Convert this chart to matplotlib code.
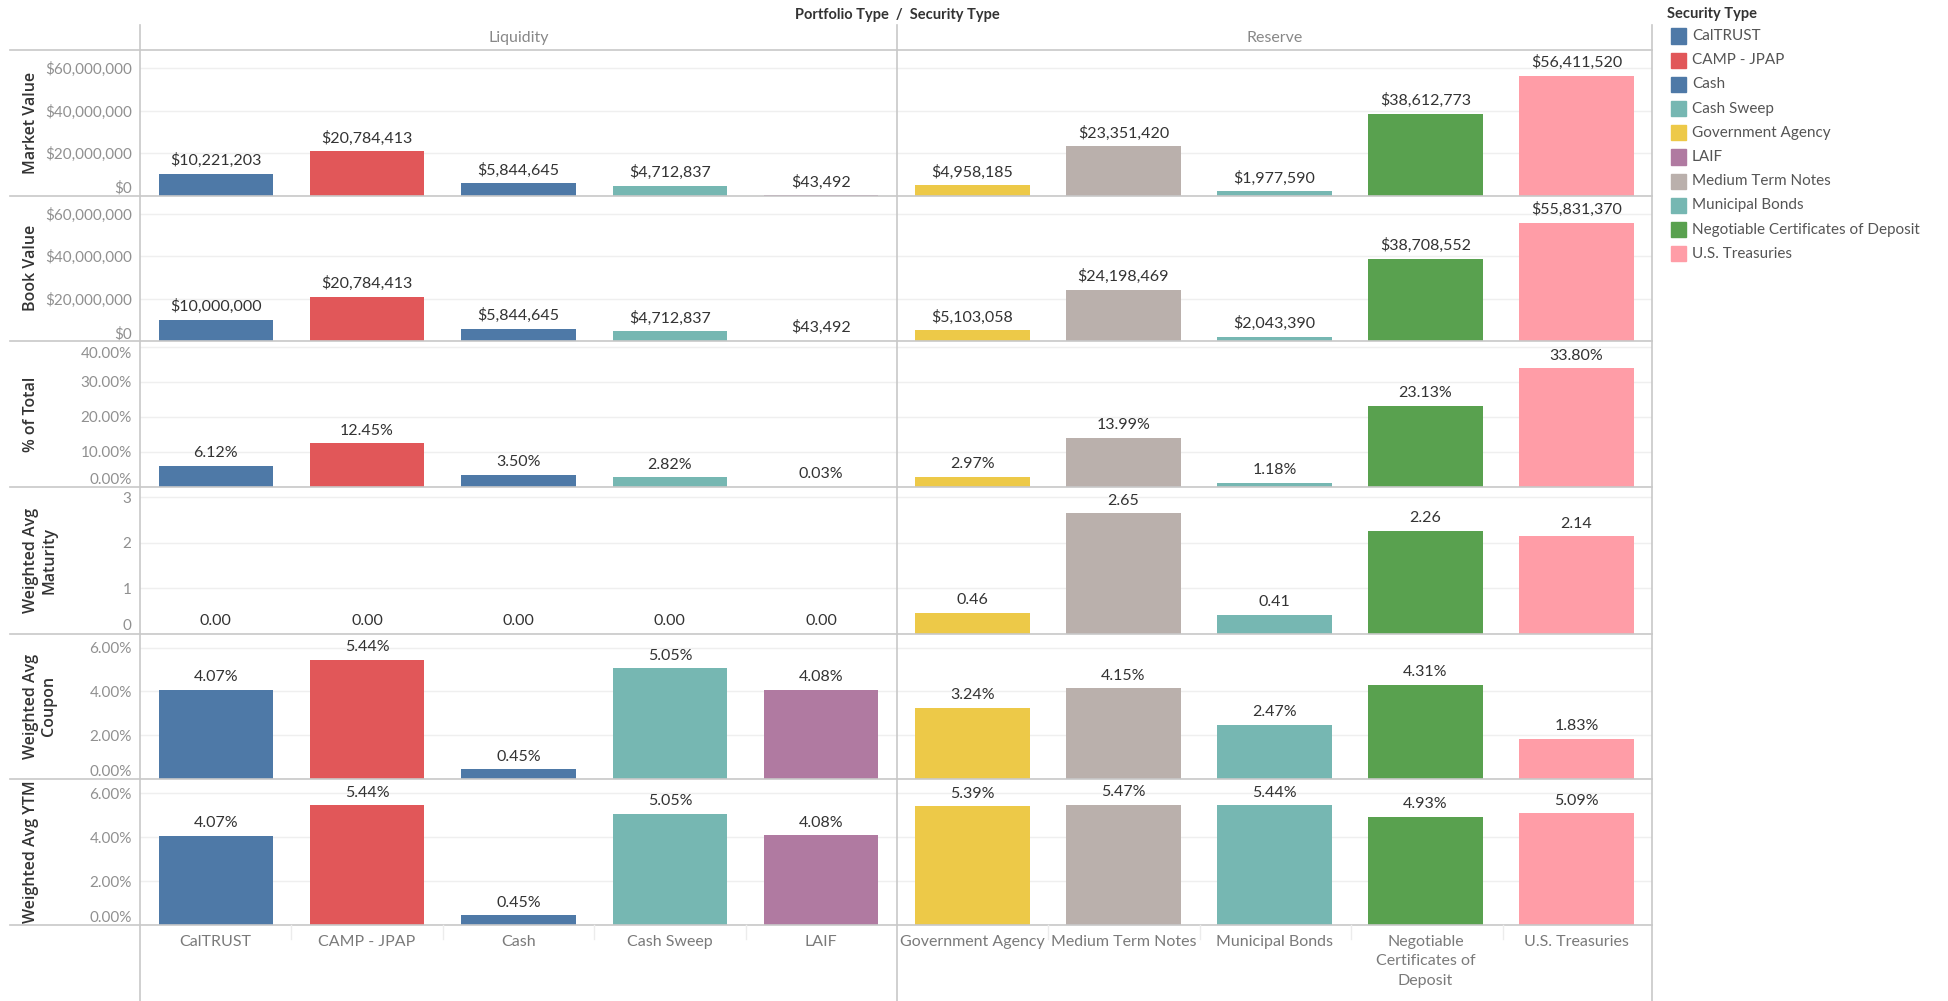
import numpy as np
import matplotlib.pyplot as plt
from matplotlib.lines import Line2D
from matplotlib.patches import Rectangle

plt.rcParams['font.family'] = ['Lato', 'DejaVu Sans']

# categories per portfolio type
liquidity = ["CalTRUST", "CAMP - JPAP", "Cash", "Cash Sweep", "LAIF"]
reserve = ["Government Agency", "Medium Term Notes", "Municipal Bonds",
           "Negotiable Certificates of Deposit", "U.S. Treasuries"]
reserve_labels = ["Government Agency", "Medium Term Notes", "Municipal Bonds",
                  "Negotiable\nCertificates of\nDeposit", "U.S. Treasuries"]

# measures (liquidity first 5, reserve last 5)
market_value = [10221203, 20784413, 5844645, 4712837, 43492,
                4958185, 23351420, 1977590, 38612773, 56411520]
book_value = [10000000, 20784413, 5844645, 4712837, 43492,
              5103058, 24198469, 2043390, 38708552, 55831370]
pct_total = [6.12, 12.45, 3.50, 2.82, 0.03,
             2.97, 13.99, 1.18, 23.13, 33.80]
wam = [0.00, 0.00, 0.00, 0.00, 0.00,
       0.46, 2.65, 0.41, 2.26, 2.14]
coupon = [4.07, 5.44, 0.45, 5.05, 4.08,
          3.24, 4.15, 2.47, 4.31, 1.83]
ytm = [4.07, 5.44, 0.45, 5.05, 4.08,
       5.39, 5.47, 5.44, 4.93, 5.09]

legend_types = ["CalTRUST", "CAMP - JPAP", "Cash", "Cash Sweep", "Government Agency",
                "LAIF", "Medium Term Notes", "Municipal Bonds",
                "Negotiable Certificates of Deposit", "U.S. Treasuries"]
legend_colors = ["#4e79a7", "#e15759", "#4e79a7", "#76b7b2", "#edc948",
                 "#b07aa1", "#bab0ac", "#76b7b2", "#59a14f", "#ff9da7"]
cmap = dict(zip(legend_types, legend_colors))

money = lambda v: f"${v:,.0f}"
pct = lambda v: f"{v:.2f}%"
rows = [
    ("Market Value", market_value, 68.6e6, [0, 20e6, 40e6, 60e6], money, money),
    ("Book Value", book_value, 68.6e6, [0, 20e6, 40e6, 60e6], money, money),
    ("% of Total", pct_total, 41.6, [0, 10, 20, 30, 40], pct, pct),
    ("Weighted Avg\nMaturity", wam, 3.23, [0, 1, 2, 3], lambda v: f"{v:.0f}", lambda v: f"{v:.2f}"),
    ("Weighted Avg\nCoupon", coupon, 6.64, [0, 2, 4, 6], pct, pct),
    ("Weighted Avg YTM", ytm, 6.64, [0, 2, 4, 6], pct, pct),
]

W, H = 1948, 1001
fig = plt.figure(figsize=(W / 100, H / 100), dpi=100)

seps = [50, 195.5, 341, 487, 633.5, 779, 925]
xl, xm, xr = 140, 897, 1652
line_c = "#c8c8c8"
tick_c = "#909090"
text_c = "#333333"

def fx(px):
    return px / W

def fy(py):
    return 1 - py / H

def hline(y, x0=10, x1=xr, c=line_c, lw=1.2):
    fig.add_artist(Line2D([fx(x0), fx(x1)], [fy(y), fy(y)], color=c, lw=lw))

def vline(x, y0=25, y1=H, c=line_c, lw=1.2):
    fig.add_artist(Line2D([fx(x), fx(x)], [fy(y0), fy(y1)], color=c, lw=lw))

for i, (title, vals, ymax, ticks, tfmt, lfmt) in enumerate(rows):
    top, bot = seps[i], seps[i + 1]
    for j, (x0, x1) in enumerate([(xl, xm), (xm, xr)]):
        ax = fig.add_axes([fx(x0), fy(bot), fx(x1 - x0), (bot - top) / H])
        v = vals[j * 5:(j + 1) * 5]
        cats = liquidity if j == 0 else reserve
        ax.bar(range(5), v, width=0.755, color=[cmap[c] for c in cats], zorder=2)
        for k, val in enumerate(v):
            ax.annotate(lfmt(val), (k, val), xytext=(0, 4), textcoords="offset points",
                        ha="center", va="bottom", fontsize=11.5, color=text_c, zorder=3)
        ax.set_xlim(-0.5, 4.5)
        ax.set_ylim(0, ymax)
        ax.set_yticks(ticks)
        ax.grid(axis="y", color="#efefef", lw=1, zorder=0)
        for s in ax.spines.values():
            s.set_visible(False)
        ax.tick_params(length=0)
        if j == 0:
            ax.set_yticklabels([tfmt(t) for t in ticks], fontsize=11, color=tick_c)
            ax.tick_params(axis="y", pad=6)
            ax.get_yticklabels()[0].set_va("bottom")
            if i == 2:
                ax.get_yticklabels()[-1].set_va("top")
        else:
            ax.set_yticklabels([])
        if i == len(rows) - 1:
            ax.set_xticks(range(5))
            ax.set_xticklabels(liquidity if j == 0 else reserve_labels,
                               fontsize=11.5, color="#7a7a7a", va="top", linespacing=1.5)
            ax.tick_params(axis="x", pad=7)
        else:
            ax.set_xticks([])
        ax.patch.set_alpha(0)
    fig.text(fx(23), fy((top + bot) / 2), title, rotation=90, ha="left", va="center",
             multialignment="center", fontsize=11.5, color=text_c, family=["Open Sans", "DejaVu Sans"],
             fontweight="semibold")

# row separators and column dividers
for y in seps:
    hline(y)
for x in (xl, xm, xr):
    vline(x)
# faint category dividers in the label row
for x0 in (xl, xm):
    for k in range(1, 5):
        x = x0 + k * (xm - xl) / 5
        vline(x, y0=seps[-1], y1=seps[-1] + 14, c="#ececec", lw=1)

# headers
fig.text(fx((xl + xm) / 2), fy(38), "Liquidity", ha="center", va="center", fontsize=11.5, color="#888888")
fig.text(fx((xm + xr) / 2), fy(38), "Reserve", ha="center", va="center", fontsize=11.5, color="#888888")
fig.text(fx(xm), fy(15), "Portfolio Type  /  Security Type", ha="center", va="center",
         fontsize=10.5, color=text_c, fontweight="bold")

# legend
fig.text(fx(1667), fy(14), "Security Type", ha="left", va="center", fontsize=10.5,
         color=text_c, fontweight="bold")
for k, (name, col) in enumerate(zip(legend_types, legend_colors)):
    yc = 36 + k * 24.2
    fig.add_artist(Rectangle((fx(1671), fy(yc + 7.5)), fx(15), 15 / H, color=col,
                             transform=fig.transFigure))
    fig.text(fx(1692), fy(yc), name, ha="left", va="center", fontsize=11, color="#555555")

fig.savefig("out.png", dpi=100)
